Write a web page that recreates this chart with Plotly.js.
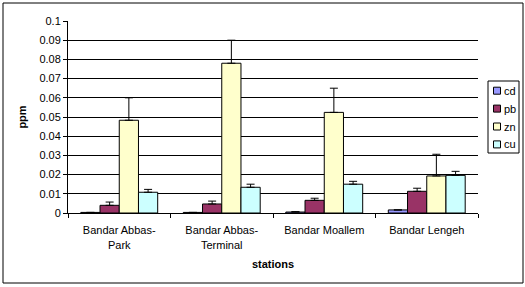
<!DOCTYPE html>
<html>
<head>
<meta charset="utf-8">
<script src="https://cdn.plot.ly/plotly-3.0.1.min.js"></script>
<style>
html,body{margin:0;padding:0;background:#fff;}
#chart{width:525px;height:287px;}
</style>
</head>
<body>
<div id="chart"></div>
<script>
const stations = ["Bandar Abbas-<br>Park", "Bandar Abbas-<br>Terminal", "Bandar Moallem", "Bandar Lengeh"];
const seriesNames = ["cd", "pb", "zn", "cu"];
const cd = [0.0003, 0.0003, 0.0005, 0.0016];
const pb = [0.0040, 0.0047, 0.0066, 0.0113];
const zn = [0.0483, 0.0780, 0.0524, 0.0193];
const cu = [0.0108, 0.0134, 0.0150, 0.0196];
const cdErr = [0.0000, 0.0000, 0.0002, 0.0000];
const pbErr = [0.0017, 0.0015, 0.0011, 0.0016];
const znErr = [0.0117, 0.0120, 0.0126, 0.0113];
const cuErr = [0.0015, 0.0016, 0.0015, 0.0021];
const colors = ["#9999FF", "#993366", "#FFFFCC", "#CCFFFF"];

const values = [cd, pb, zn, cu];
const errs = [cdErr, pbErr, znErr, cuErr];

const traces = seriesNames.map((n, i) => ({
  type: "bar",
  name: n,
  x: stations,
  y: values[i],
  marker: {color: colors[i], line: {color: "#000", width: 1}},
  error_y: {type: "data", array: errs[i], symmetric: false, arrayminus: errs[i].map(() => 0),
            color: "#000", thickness: 1, width: 4, visible: true}
}));

const fam = "Liberation Sans, Arial, sans-serif";

// plot area geometry (px) for converting legend placement to paper coords
const L = 68, R = 478, T = 21, B = 213;
const px = x => (x - L) / (R - L);
const py = y => (B - y) / (B - T);

const shapes = [
  {type: "rect", xref: "paper", yref: "paper",
   x0: px(3), x1: px(523), y0: py(283), y1: py(3),
   line: {color: "#000", width: 1}, fillcolor: "rgba(0,0,0,0)", layer: "below"},
  {type: "rect", xref: "paper", yref: "paper",
   x0: px(488), x1: px(519), y0: py(153), y1: py(81),
   line: {color: "#000", width: 1}, fillcolor: "#fff", layer: "above"}
];
const annotations = [];
seriesNames.forEach((n, i) => {
  const cy = 90.7 + i * 17.9;
  shapes.push({type: "rect", xref: "paper", yref: "paper",
    x0: px(493.5), x1: px(500.5), y0: py(cy + 3.5), y1: py(cy - 3.5),
    line: {color: "#000", width: 1}, fillcolor: colors[i], layer: "above"});
  annotations.push({xref: "paper", yref: "paper", x: px(502), y: py(cy),
    xanchor: "left", yanchor: "middle", text: n, showarrow: false,
    font: {family: fam, size: 11, color: "#000"}});
});

const layout = {
  width: 525, height: 287,
  margin: {l: L, r: 525 - R, t: T, b: 287 - B},
  paper_bgcolor: "#fff", plot_bgcolor: "#fff",
  font: {family: fam, size: 11, color: "#000"},
  barmode: "group",
  bargap: 0.25,
  bargroupgap: 0,
  showlegend: false,
  xaxis: {
    type: "category",
    title: {text: "<b>stations</b>", font: {family: fam, size: 11}, standoff: 10},
    showline: true, linecolor: "#000", linewidth: 1,
    ticks: "outside", tickson: "boundaries", ticklen: 4, tickcolor: "#000",
    ticklabelstandoff: 7,
    showgrid: false, zeroline: false,
    tickfont: {family: fam, size: 11}
  },
  yaxis: {
    title: {text: "<b>ppm</b>", font: {family: fam, size: 11}, standoff: 10},
    range: [0, 0.1], dtick: 0.01,
    showline: true, linecolor: "#000", linewidth: 1,
    ticks: "outside", ticklen: 4, tickcolor: "#000",
    showgrid: true, gridcolor: "#000", gridwidth: 1,
    zeroline: false,
    tickfont: {family: fam, size: 11}
  },
  shapes: shapes,
  annotations: annotations
};

Plotly.newPlot("chart", traces, layout, {displayModeBar: false, staticPlot: true});
</script>
</body>
</html>
